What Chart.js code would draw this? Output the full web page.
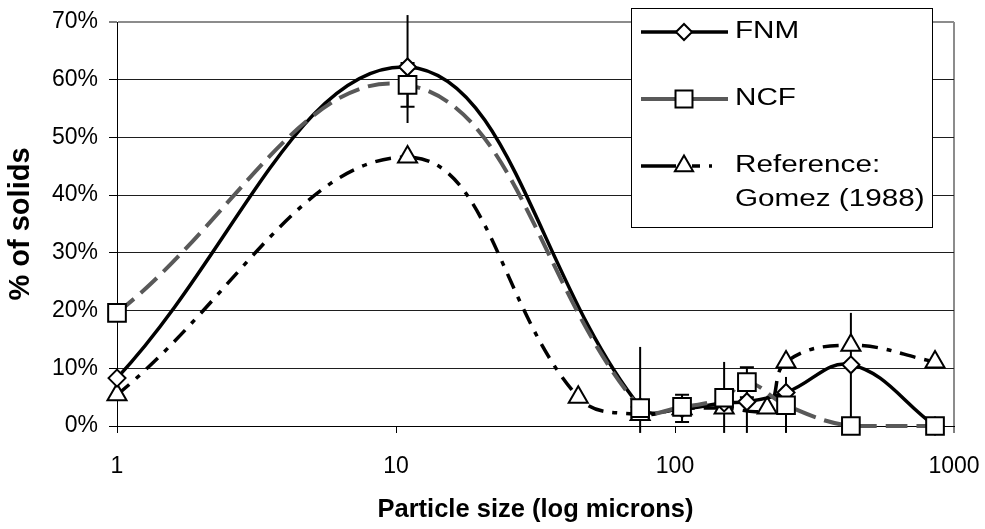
<!DOCTYPE html>
<html><head><meta charset="utf-8">
<script src="https://cdn.jsdelivr.net/npm/chart.js@4.4.1/dist/chart.umd.min.js"></script>
<style>html,body{margin:0;padding:0;background:#fff;}canvas{display:block;}</style>
</head><body>
<canvas id="c" width="985" height="529"></canvas>
<script>
// ---- tick labels ----
const xTickValues = [1, 10, 100, 1000];
const xTickLabels = ['1', '10', '100', '1000'];
const yTickLabels = ['0%', '10%', '20%', '30%', '40%', '50%', '60%', '70%'];

// ---- series (x in microns, y in % of solids) ----
const fnmX = [1, 11, 75, 106, 150, 181, 250, 427, 855];
const fnmY = [8.3, 62.2, 3.3, 3.0, 4.0, 4.2, 5.8, 10.6, 0];

const ncfX = [1, 11, 75, 106, 150, 181, 250, 427, 855];
const ncfY = [19.6, 59.1, 3.1, 3.3, 4.9, 7.6, 3.6, 0, 0];

const refX = [1, 11, 45, 75, 106, 150, 214, 250, 427, 855];
const refY = [5.4, 46.6, 5.0, 2.0, 3.0, 3.1, 3.1, 11.1, 14.0, 11.1];

// ---- error bars ----
const fnmErrX = [11, 75, 150, 181, 250, 427];
const fnmErrLow = [52.5, -1.2, -1.2, -1.2, -1.2, -1.2];
const fnmErrHigh = [71.2, 13.7, 11.1, 7.6, 8.5, 19.6];
const ncfErrX = [11, 106, 181];
const ncfErrLow = [55.3, 0.7, 5.0];
const ncfErrHigh = [62.9, 5.4, 10.2];

const seriesNames = ['FNM', 'NCF', 'Reference: Gomez (1988)'];
const legendLabels = [['FNM'], ['NCF'], ['Reference:', 'Gomez (1988)']];

const FONT = '"Liberation Sans", Arial, Helvetica, sans-serif';
Chart.defaults.font.family = FONT;
Chart.defaults.color = '#000';

const toPts = (xs, ys) => xs.map((x, i) => ({x: x, y: ys[i]}));

function drawMarker(ctx, style, x, y, r) {
  ctx.beginPath();
  if (style === 'rectRot') {
    ctx.moveTo(x - r, y); ctx.lineTo(x, y - r); ctx.lineTo(x + r, y); ctx.lineTo(x, y + r);
  } else if (style === 'rect') {
    const s = Math.SQRT1_2 * r; ctx.rect(x - s, y - s, 2 * s, 2 * s);
  } else {
    const w = r * Math.sin(Math.PI / 3);
    ctx.moveTo(x, y - r); ctx.lineTo(x + w, y + r / 2); ctx.lineTo(x - w, y + r / 2);
  }
  ctx.closePath();
  ctx.fillStyle = '#fff'; ctx.fill();
  ctx.strokeStyle = '#000'; ctx.lineWidth = 2; ctx.setLineDash([]); ctx.stroke();
}

const errorBars = {
  id: 'errorBars',
  beforeDatasetsDraw(chart) {
    const {ctx, scales: {x, y}} = chart;
    ctx.save();
    ctx.strokeStyle = '#000'; ctx.lineWidth = 2;
    const draw = (xs, lo, hi, cap) => {
      xs.forEach((v, i) => {
        const px = x.getPixelForValue(v);
        const y1 = y.getPixelForValue(lo[i]), y2 = y.getPixelForValue(hi[i]);
        ctx.beginPath();
        ctx.moveTo(px, y1); ctx.lineTo(px, y2);
        if (cap) {
          ctx.moveTo(px - cap, y1); ctx.lineTo(px + cap, y1);
          ctx.moveTo(px - cap, y2); ctx.lineTo(px + cap, y2);
        }
        ctx.stroke();
      });
    };
    draw(fnmErrX, fnmErrLow, fnmErrHigh, 0);
    draw(ncfErrX, ncfErrLow, ncfErrHigh, 7);
    ctx.restore();
  }
};

const legendBox = {
  id: 'legendBox',
  afterDraw(chart) {
    const ctx = chart.ctx, a = chart.chartArea;
    const L = a.right - 323, T = a.top - 14, W = 301, H = 219;
    ctx.save();
    ctx.fillStyle = '#fff'; ctx.fillRect(L, T, W, H);
    ctx.strokeStyle = '#000'; ctx.lineWidth = 1; ctx.strokeRect(L + 0.5, T + 0.5, W, H);
    const rows = [T + 24, T + 91, T + 158];
    const x0 = L + 10, x1 = L + 97, xm = L + 53, tx = L + 104;
    chart.data.datasets.forEach((ds, i) => {
      const yy = rows[i];
      ctx.save();
      ctx.strokeStyle = ds.borderColor; ctx.lineWidth = ds.borderWidth;
      ctx.setLineDash(i === 2 ? [35, 16, 8, 9, 3, 40] : []);
      ctx.beginPath(); ctx.moveTo(x0, yy); ctx.lineTo(x1, yy); ctx.stroke();
      ctx.restore();
      drawMarker(ctx, ds.pointStyle, xm, yy, i === 0 ? 8 : (i === 1 ? 12 : 10.5));
      ctx.fillStyle = '#000'; ctx.font = '23px ' + FONT; ctx.textBaseline = 'middle'; ctx.textAlign = 'left';
      legendLabels[i].forEach((t, k) => {
        ctx.save(); ctx.translate(tx, yy + k * 34); ctx.scale(1.29, 1); ctx.fillText(t, 0, 0); ctx.restore();
      });
    });
    ctx.restore();
  }
};

new Chart(document.getElementById('c'), {
  type: 'line',
  data: {
    datasets: [
      {
        label: seriesNames[0], data: toPts(fnmX, fnmY), order: 1,
        borderColor: '#000', borderWidth: 3.5, tension: 0.4,
        pointStyle: 'rectRot', pointRadius: 8.5, pointBackgroundColor: '#fff',
        pointBorderColor: '#000', pointBorderWidth: 2, clip: false
      },
      {
        label: seriesNames[1], data: toPts(ncfX, ncfY), order: 0,
        borderColor: '#595959', borderWidth: 4, borderDash: [22, 9], tension: 0.4,
        pointStyle: 'rect', pointRadius: 12.5, pointBackgroundColor: '#fff',
        pointBorderColor: '#000', pointBorderWidth: 2, clip: false
      },
      {
        label: seriesNames[2], data: toPts(refX, refY), order: 2,
        borderColor: '#000', borderWidth: 3.5, borderDash: [16, 9, 5, 9], tension: 0.4,
        pointStyle: 'triangle', pointRadius: 11, pointBackgroundColor: '#fff',
        pointBorderColor: '#000', pointBorderWidth: 2, clip: false
      }
    ]
  },
  options: {
    responsive: false, animation: false, events: [],
    layout: {padding: {top: 22, right: 31, left: 0, bottom: 0}},
    plugins: {legend: {display: false}, tooltip: {enabled: false}},
    scales: {
      x: {
        type: 'logarithmic', min: 1, max: 1000,
        afterBuildTicks: (ax) => { ax.ticks = xTickValues.map(v => ({value: v})); },
        afterFit: (s) => { s.height = 103; s.paddingLeft = 0; s.paddingRight = 0; },
        ticks: {
          font: {size: 23}, color: '#000', padding: 20, maxRotation: 0, autoSkip: false,
          callback: (v, i) => xTickLabels[i]
        },
        grid: {
          drawOnChartArea: true,
          color: (c) => (c.tick && c.tick.value === 1000) ? '#8c8c8c' : 'rgba(0,0,0,0)',
          lineWidth: (c) => (c.tick && c.tick.value === 1000) ? 2 : 1,
          tickColor: '#000', tickLength: 7, tickWidth: 1
        },
        border: {display: true, color: '#000', width: 1},
        title: {display: true, text: 'Particle size (log microns)', font: {size: 25.5, weight: 'bold'}, color: '#000', padding: {top: 0, bottom: 4}}
      },
      y: {
        min: 0, max: 70,
        afterFit: (s) => { s.width = 117; s.paddingTop = 0; s.paddingBottom = 0; },
        ticks: {
          stepSize: 10, font: {size: 23}, color: '#000', padding: 11,
          callback: (v) => yTickLabels[Math.round(v / 10)]
        },
        grid: {
          color: (c) => (c.tick && c.tick.value === 70) ? '#8c8c8c' : '#1e1e1e',
          lineWidth: (c) => (c.tick && c.tick.value === 70) ? 2 : 1,
          tickColor: '#000', tickLength: 8, tickWidth: 1
        },
        border: {display: true, color: '#000', width: 1},
        title: {display: true, text: '% of solids', font: {size: 29, weight: 'bold'}, color: '#000', padding: {top: 4, bottom: 0}}
      }
    }
  },
  plugins: [errorBars, legendBox]
});
</script>
</body></html>
